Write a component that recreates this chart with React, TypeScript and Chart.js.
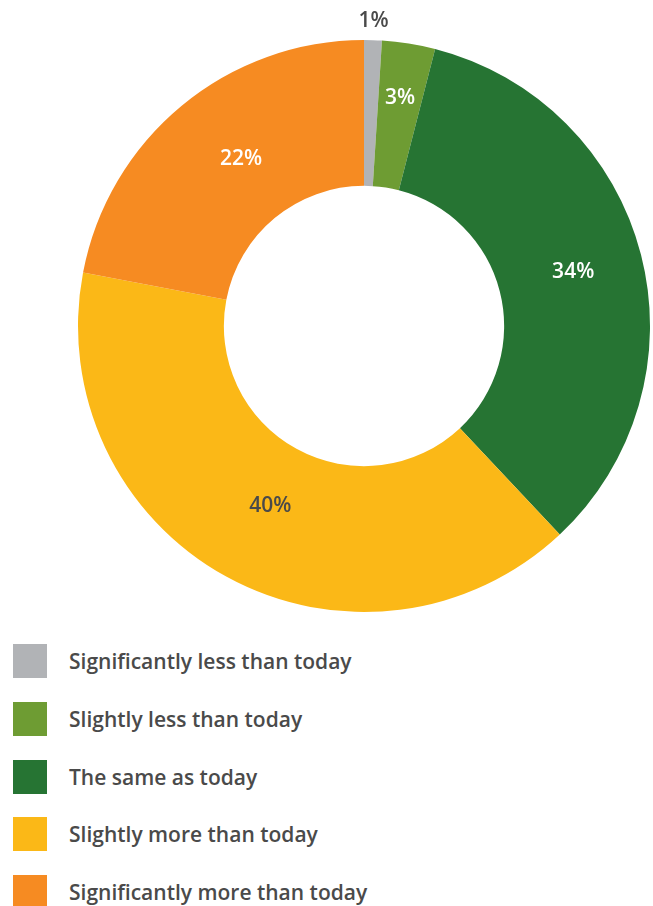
import React, { useEffect, useRef } from "react";
import { Chart, registerables } from "chart.js";

Chart.register(...registerables);

const categories = [
  "Significantly less than today",
  "Slightly less than today",
  "The same as today",
  "Slightly more than today",
  "Significantly more than today",
];
const values = [1, 3, 34, 40, 22];
const valueLabels = ["1%", "3%", "34%", "40%", "22%"];

// styling (not data)
const colors = ["#b1b3b6", "#6e9c33", "#267433", "#fbb817", "#f68b22"];
const labelColors = ["#4a4a4a", "#ffffff", "#ffffff", "#4a4a4a", "#ffffff"];
const labelRingPos = [1.13, 0.62, 0.52, 0.43, 0.46];
const labelAngleShiftDeg = [0, 0, 0, -1.3, 3.2];
const FONT = "'Open Sans', 'Noto Sans', sans-serif";
const TEXT = "#4a4a4a";

const labelPlugin = {
  id: "sliceLabels",
  afterDatasetsDraw(chart: any) {
    const ctx = chart.ctx;
    const meta = chart.getDatasetMeta(0);
    ctx.save();
    ctx.font = `600 21px ${FONT}`;
    ctx.textAlign = "center";
    ctx.textBaseline = "middle";
    meta.data.forEach((arc: any, i: number) => {
      const p = arc.getProps(["x", "y", "startAngle", "endAngle", "innerRadius", "outerRadius"], true);
      const mid = (p.startAngle + p.endAngle) / 2 + (labelAngleShiftDeg[i] * Math.PI) / 180;
      const r = p.innerRadius + labelRingPos[i] * (p.outerRadius - p.innerRadius);
      ctx.fillStyle = labelColors[i];
      ctx.fillText(valueLabels[i], p.x + Math.cos(mid) * r, p.y + Math.sin(mid) * r);
    });
    ctx.restore();
  },
};

export default function App() {
  const ref = useRef<HTMLCanvasElement | null>(null);
  useEffect(() => {
    if (!ref.current) return;
    const chart = new Chart(ref.current, {
      type: "doughnut",
      data: {
        labels: categories,
        datasets: [
          {
            data: values,
            backgroundColor: colors,
            borderWidth: 0,
          },
        ],
      },
      options: {
        responsive: false,
        animation: false,
        cutout: "49%",
        layout: { padding: { left: 78, right: 3, top: 40, bottom: 18 } },
        plugins: {
          legend: { display: false },
          tooltip: { enabled: false },
        },
      },
      plugins: [labelPlugin],
    });
    return () => chart.destroy();
  }, []);

  return (
    <div style={{ position: "absolute", left: 0, top: 0, width: 653, height: 906, background: "#fff", overflow: "hidden" }}>
      <canvas ref={ref} width={653} height={630} style={{ position: "absolute", left: 0, top: 0, width: 653, height: 630 }} />
      {categories.map((c, i) => (
        <div
          key={c}
          style={{
            position: "absolute",
            left: 13,
            top: 644 + i * 57.8,
            height: 34,
            display: "flex",
            alignItems: "center",
          }}
        >
          <div style={{ width: 34, height: 34, background: colors[i] }} />
          <div
            style={{
              marginLeft: 22,
              fontFamily: FONT,
              fontWeight: 600,
              fontSize: 21,
              color: TEXT,
              whiteSpace: "nowrap",
              lineHeight: "34px",
            }}
          >
            {c}
          </div>
        </div>
      ))}
    </div>
  );
}
